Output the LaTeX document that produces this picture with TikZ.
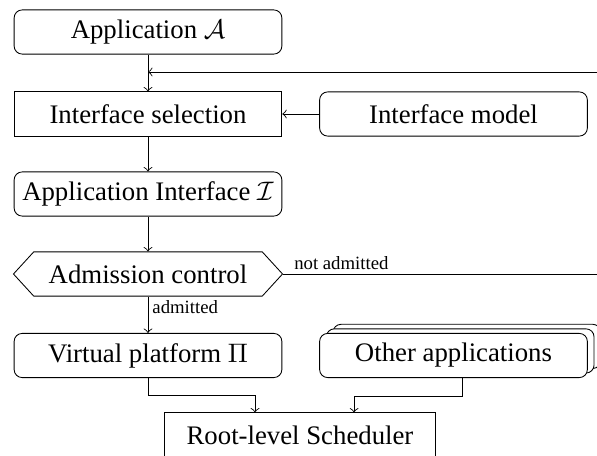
\documentclass[tikz,border=0pt]{standalone}
\usepackage{fontspec}
\setmainfont{Liberation Serif}
\usetikzlibrary{shapes.symbols,shadows,arrows}
\begin{document}
\begin{tikzpicture}[x=0.3735pt,y=-0.3735pt,line width=0.32pt,
  boxbase/.style={draw,fill=white,minimum width=100pt,minimum height=16.5pt,inner sep=2pt,font=\normalsize},
  rbox/.style={boxbase,rounded corners=3pt},
  sbox/.style={boxbase},
  hexbox/.style={draw,fill=white,signal,signal to=west and east,signal pointer angle=95,minimum width=100.5pt,minimum height=16.5pt,inner sep=2pt},
  lbl/.style={font=\scriptsize,inner sep=1.5pt},
  conn/.style={->}]
\clip (0,0) rectangle (597,456);
\node[rbox] (app) at (148,32) {Application $\mathcal{A}$};
\node[sbox] (sel) at (148,114) {Interface selection};
\node[rbox] (model) at (453.5,114) {Interface model};
\node[rbox] (iface) at (148,194) {Application Interface $\mathcal{I}$};
\node[hexbox] (adm) at (148,274) {Admission control};
\node[rbox] (vp) at (148,355.5) {Virtual platform $\Pi$};
\node[rbox,double copy shadow={shadow xshift=2.5pt,shadow yshift=1.7pt}] (oth) at (453.5,355.5) {Other applications};
\node[sbox,minimum width=101pt] (root) at (300,435) {Root-level Scheduler};
\coordinate (fbr) at (640,274);
\coordinate (fbj) at (148,72);
\draw[conn] (app.south) -- (sel.north);
\draw[conn] (model.west) -- (sel.east);
\draw[conn] (sel.south) -- (iface.north);
\draw[conn] (iface.south) -- (adm.north);
\draw[conn] (adm.south) -- node[lbl,right,pos=0.3] {admitted} (vp.north);
\draw[conn] (adm.east) -- (fbr) |- (fbj);
\node[lbl,anchor=south west] (na) at ([xshift=2.5pt]adm.east) {not admitted};
\draw[conn] (vp.south) -- ++(0,17) -| ([xshift=-16.8pt]root.north);
\draw[conn] ([xshift=3.2pt]oth.south) -- ++(0,18) -| ([xshift=20.2pt]root.north);
\end{tikzpicture}
\end{document}
